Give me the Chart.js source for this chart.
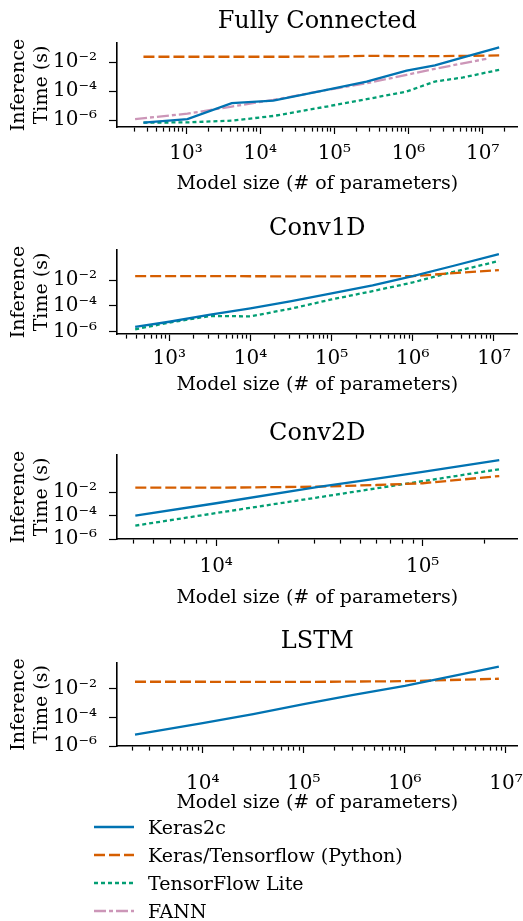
<!DOCTYPE html>
<html>
<head>
<meta charset="utf-8">
<script src="https://cdn.jsdelivr.net/npm/chart.js@4.4.1/dist/chart.umd.min.js"></script>
<style>
  body { margin: 0; background: #fff; width: 523px; height: 921px; position: relative; overflow: hidden; font-family: 'DejaVu Serif', serif; }
  canvas { position: absolute; left: 0; }
  .item { position: absolute; left: 93px; height: 24px; line-height: 24px; white-space: nowrap; font-size: 19px; color: #000; }
  .item svg { position: absolute; left: 0; top: 0; }
  .item span { position: absolute; left: 55px; top: 0; }
</style>
</head>
<body>
<canvas id="fc" width="523" height="197" style="top:0px"></canvas>
<canvas id="c1" width="523" height="197" style="top:207px"></canvas>
<canvas id="c2" width="523" height="197" style="top:412px"></canvas>
<canvas id="lstm" width="523" height="196" style="top:620px"></canvas>
<div id="legend"></div>
<script>
const seriesNames = ['Keras2c', 'Keras/Tensorflow (Python)', 'TensorFlow Lite', 'FANN'];
const seriesColors = ['#0173b2', '#d55e00', '#029e73', '#cc96b8'];
const seriesDash = [[], [11, 4], [4, 3], [12, 3, 4, 3]];

// Fully Connected
const fcSizes = [266, 1042, 4130, 15000, 78700, 272000, 942000, 2270000, 5460000, 16700000];
const fcKeras2c = [6.6e-7, 1.17e-6, 1.45e-5, 2.19e-5, 1.2e-4, 4.57e-4, 2.63e-3, 5.9e-3, 0.0214, 0.105];
const fcTensorflow = [0.0235, 0.0235, 0.0235, 0.0235, 0.024, 0.027, 0.026, 0.026, 0.027, 0.029];
const fcTFLite = [6.6e-7, 6.9e-7, 9.1e-7, 1.9e-6, 8.5e-6, 2.75e-5, 9.3e-5, 4.57e-4, 8.7e-4, 2.95e-3];
const fannSizes = [205, 1042, 4130, 15000, 78700, 272000, 942000, 2270000, 11200000];
const fcFANN = [1.17e-6, 2.75e-6, 8.5e-6, 2.45e-5, 1.2e-4, 3.47e-4, 1.32e-3, 3.47e-3, 0.017];

// Conv1D
const c1Sizes = [380, 1000, 3200, 10000, 32000, 100000, 320000, 1000000, 3200000, 11500000];
const c1Keras2c = [2.2e-6, 5.6e-6, 2.0e-5, 6.3e-5, 2.24e-4, 9.1e-4, 3.8e-3, 0.0204, 0.132, 1.05];
const c1Tensorflow = [0.0205, 0.0205, 0.0205, 0.02, 0.0198, 0.0198, 0.02, 0.0205, 0.035, 0.06];
const c1TFLite = [1.45e-6, 4.8e-6, 1.58e-5, 1.48e-5, 6.0e-5, 3.1e-4, 1.38e-3, 6.6e-3, 0.0447, 0.31];

// Conv2D
const c2Sizes = [4060, 10000, 30700, 60000, 100000, 235000];
const c2Keras2c = [1.0e-4, 1.15e-3, 0.028, 0.15, 0.56, 5.75];
const c2Tensorflow = [0.0245, 0.0245, 0.03, 0.042, 0.059, 0.245];
const c2TFLite = [1.4e-5, 1.66e-4, 3.5e-3, 0.022, 0.089, 0.93];

// LSTM
const lstmSizes = [2140, 10000, 31600, 100000, 310000, 1000000, 8500000];
const lstmKeras2c = [6.3e-6, 4.0e-5, 1.7e-4, 8.5e-4, 3.8e-3, 0.0158, 0.35];
const lstmTensorflow = [0.031, 0.031, 0.030, 0.030, 0.032, 0.034, 0.05];

const yTicks = [1e-6, 1e-4, 1e-2];
const xTitle = 'Model size (# of parameters)';
const yTitle = ['Inference', 'Time (s)'];

const serif = "'DejaVu Serif', serif";
Chart.defaults.font.family = serif;
Chart.defaults.color = '#000';

const sup = {'-': '\u207b', '0': '\u2070', '1': '\u00b9', '2': '\u00b2', '3': '\u00b3', '4': '\u2074',
             '5': '\u2075', '6': '\u2076', '7': '\u2077', '8': '\u2078', '9': '\u2079'};
function powLabel(v) {
  const e = String(Math.round(Math.log10(v)));
  return '10' + e.split('').map(c => sup[c]).join('');
}
function isDecade(v) {
  const l = Math.log10(v);
  return Math.abs(l - Math.round(l)) < 1e-9;
}
function logTicks(min, max) {
  const out = [];
  for (let e = Math.floor(Math.log10(min)); e <= Math.ceil(Math.log10(max)); e++) {
    for (let k = 1; k < 10; k++) {
      const v = k * Math.pow(10, e);
      if (v >= min && v <= max) out.push(v);
    }
  }
  return out;
}
function pts(xs, ys) {
  return ys.map((y, i) => ({x: xs[i], y: y}));
}
function ds(i, xs, ys) {
  return {
    label: seriesNames[i],
    data: pts(xs, ys),
    borderColor: seriesColors[i],
    backgroundColor: seriesColors[i],
    borderDash: seriesDash[i],
    borderWidth: 2.3,
    pointRadius: 0,
    tension: 0,
    fill: false
  };
}

const panels = [
  {id: 'fc', title: 'Fully Connected', xMin: 117, xMax: 2.95e7, yMin: 3.3e-7, yMax: 0.21, tickPad: 7.4, titlePad: 1.1,
   datasets: [ds(0, fcSizes, fcKeras2c), ds(1, fcSizes, fcTensorflow), ds(2, fcSizes, fcTFLite), ds(3, fannSizes, fcFANN)]},
  {id: 'c1', title: 'Conv1D', xMin: 227, xMax: 1.95e7, yMin: 6.2e-7, yMax: 2.24, tickPad: 6.1, titlePad: 7.6,
   datasets: [ds(0, c1Sizes, c1Keras2c), ds(1, c1Sizes, c1Tensorflow), ds(2, c1Sizes, c1TFLite)]},
  {id: 'c2', title: 'Conv2D', xMin: 3310, xMax: 2.88e5, yMin: 1e-6, yMax: 15.5, tickPad: 8.6, titlePad: 0,
   datasets: [ds(0, c2Sizes, c2Keras2c), ds(1, c2Sizes, c2Tensorflow), ds(2, c2Sizes, c2TFLite)]},
  {id: 'lstm', title: 'LSTM', xMin: 1420, xMax: 1.3e7, yMin: 1.02e-6, yMax: 0.63, tickPad: 19, titlePad: 1.1,
   datasets: [ds(0, lstmSizes, lstmKeras2c), ds(1, lstmSizes, lstmTensorflow)]}
];

function makePanel(p) {
  const ctx = document.getElementById(p.id).getContext('2d');
  return new Chart(ctx, {
    type: 'line',
    data: {datasets: p.datasets},
    options: {
      responsive: false,
      animation: false,
      devicePixelRatio: 1,
      layout: {padding: {left: 0, right: 5.5, top: 0, bottom: 0}},
      plugins: {
        legend: {display: false},
        tooltip: {enabled: false},
        title: {
          display: true, text: p.title, color: '#000', fullSize: false,
          font: {family: serif, size: 24, weight: 'normal'},
          padding: {top: 7.6, bottom: 6.6}
        }
      },
      scales: {
        x: {
          type: 'logarithmic',
          min: p.xMin,
          max: p.xMax,
          afterBuildTicks: s => { s.ticks = logTicks(p.xMin, p.xMax).map(v => ({value: v})); },
          afterFit: s => { s.height = 70; s.paddingLeft = 0; s.paddingRight = 0; },
          ticks: {
            autoSkip: false, maxRotation: 0, minRotation: 0, padding: p.tickPad,
            font: {size: 20}, color: '#000',
            callback: v => isDecade(v) ? powLabel(v) : ''
          },
          grid: {
            drawOnChartArea: false, tickLength: 7, tickColor: '#000', tickWidth: 1.2,
            tickBorderDash: c => (c.tick && !isDecade(c.tick.value)) ? [4, 30] : []
          },
          border: {color: '#000', width: 1.6},
          title: {
            display: true, text: xTitle, color: '#000',
            font: {size: 19}, padding: {top: 0, bottom: p.titlePad}
          }
        },
        y: {
          type: 'logarithmic',
          min: p.yMin,
          max: p.yMax,
          afterBuildTicks: s => { s.ticks = yTicks.map(v => ({value: v})); },
          afterFit: s => { s.width = 117; s.paddingTop = 0; s.paddingBottom = 0; },
          ticks: {
            autoSkip: false, padding: 12, font: {size: 20}, color: '#000',
            callback: v => powLabel(v)
          },
          grid: {drawOnChartArea: false, tickLength: 8, tickColor: '#000', tickWidth: 1.2},
          border: {color: '#000', width: 1.6},
          title: {
            display: true, text: yTitle, color: '#000',
            font: {size: 19, lineHeight: 1.2}, padding: {top: 8, bottom: 0}
          }
        }
      }
    }
  });
}

panels.forEach(makePanel);

// legend
const legendY = [827, 855, 883, 911];
const legend = document.getElementById('legend');
seriesNames.forEach((name, i) => {
  const div = document.createElement('div');
  div.className = 'item';
  div.style.top = (legendY[i] - 12) + 'px';
  div.innerHTML = '<svg width="42" height="24"><line x1="1" y1="12" x2="41" y2="12" stroke="' + seriesColors[i] +
    '" stroke-width="2.3" stroke-dasharray="' + (seriesDash[i].length ? seriesDash[i].join(' ') : 'none') + '"/></svg>' +
    '<span>' + name + '</span>';
  legend.appendChild(div);
});
</script>
</body>
</html>
